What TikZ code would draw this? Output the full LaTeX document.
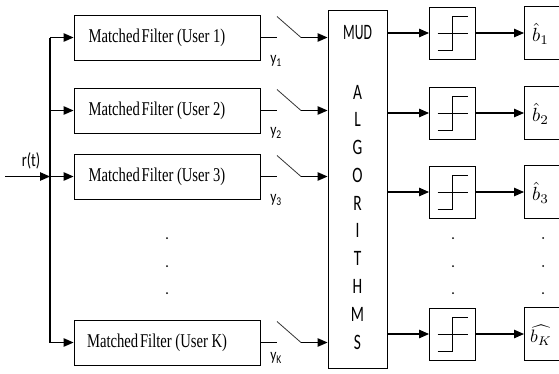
\documentclass[tikz,border=0pt]{standalone}
\usepackage{fontspec}
\setmainfont{Liberation Serif}
\newfontfamily\carlito{Carlito}
\usetikzlibrary{arrows.meta,calc}
\begin{document}
\begin{tikzpicture}[x=1pt,y=-1pt,
  wire/.style={line width=1.1pt, black},
  arr/.style={wire, -{Triangle[length=10pt,width=8.5pt]}},
  blade/.style={line width=0.8pt, black!80},
  mfbox/.style={draw, line width=0.9pt, minimum width=186pt, minimum height=45pt, inner sep=0pt},
  mftext/.style={inner sep=0pt, font=\fontsize{19.5}{21}\selectfont},
  mudbox/.style={draw, line width=0.9pt, minimum width=59pt, minimum height=358pt, inner sep=0pt},
  qbox/.style={draw, line width=0.9pt, minimum width=46pt, minimum height=52pt, inner sep=0pt},
  obox/.style={draw, line width=0.9pt, minimum width=70pt, minimum height=53pt, inner sep=0pt, anchor=west},
  stair/.style={line width=0.9pt, black},
  sans/.style={font=\carlito\fontsize{22}{23}\selectfont, inner sep=0pt},
  ylab/.style={font=\carlito\fontsize{17}{18}\selectfont, inner sep=0pt},
  blab/.style={anchor=west, inner sep=0pt},
  dot/.style={circle, fill, inner sep=0pt, minimum size=2pt}
]
\useasboundingbox (0,0) rectangle (559,373);

% MUD block
\node[mudbox] (mud) at (357.5,189) {};
\node[sans] (mudt) at (357.5,33) {\scalebox{0.62}[1]{MUD}};
\foreach \c [count=\k from 0] in {A,L,G,O,R,I,T,H,M,S}
  \node[sans] (let\k) at (357.5,{92+27.78*\k}) {\scalebox{0.7}[1]{\c}};

% bus and input
\coordinate (busT) at (50,37.5);
\coordinate (busB) at (50,342.5);
\draw[wire] (busT) -- (busB);
\coordinate (rin) at (5,176.5);
\coordinate (bus3in) at (50,176.5);
\draw[arr] (rin) -- (bus3in);
\node[sans, font=\carlito\fontsize{19}{20}\selectfont] (rt) at (31,161) {\scalebox{0.75}[1]{r(t)}};

% matched filter rows
\foreach \i/\ly/\yl in {1/37.5/61, 2/110.5/133, 3/176.5/200, K/342.5/358} {
  \node[mfbox] (mf\i) at (167,\ly) {};
  \node[mftext] (mft\i) at (157,\ly) {\scalebox{0.75}[1]{Matched\kern2.5pt Filter (User \i)}};
  \coordinate (bus\i) at (50,\ly);
  \draw[arr] (bus\i) -- (mf\i.west);
  \coordinate (w\i) at (277,\ly);
  \draw[wire] (mf\i.east) -- (w\i);
  \coordinate (bs\i) at (277,\ly-21);
  \coordinate (be\i) at (301,\ly);
  \draw[blade] (bs\i) -- (be\i);
  \draw[arr] (be\i) -- (mud.west |- be\i);
  \node[ylab] (y\i) at (276,\yl) {\scalebox{0.8}[1]{y\textsubscript{\i}}};
}

% quantizer and output rows
\foreach \i/\ry in {1/33, 2/113, 3/192, K/334} {
  \node[qbox] (q\i) at (452.5,\ry) {};
  \draw[stair] ($(q\i.center)+(-15,0)$) -- ($(q\i.center)+(15,0)$);
  \draw[stair] ($(q\i.center)+(-15,17)$) -- ($(q\i.center)+(0,17)$)
     -- ($(q\i.center)+(0,-17)$) -- ($(q\i.center)+(15,-17)$);
  \draw[arr] (mud.east |- q\i) -- (q\i.west);
  \node[obox] (o\i) at (524,\ry) {};
  \draw[arr] (q\i.east) -- (o\i.west);
}
\node[blab] (lb1) at ($(o1.west)+(8,1)$) {\scalebox{1.9}{$\hat{b}_1$}};
\node[blab] (lb2) at ($(o2.west)+(8,1)$) {\scalebox{1.9}{$\hat{b}_2$}};
\node[blab] (lb3) at ($(o3.west)+(8,1)$) {\scalebox{1.9}{$\hat{b}_3$}};
\node[blab] (lbK) at ($(oK.west)+(6,1)$) {\scalebox{1.8}{$\widehat{b_K}$}};

% continuation dots
\foreach \x/\n in {167/l, 453/q, 543/o}
  \foreach \y [count=\j] in {238,266,293}
    \node[dot] (d\n\j) at (\x,\y) {};
\end{tikzpicture}
\end{document}
